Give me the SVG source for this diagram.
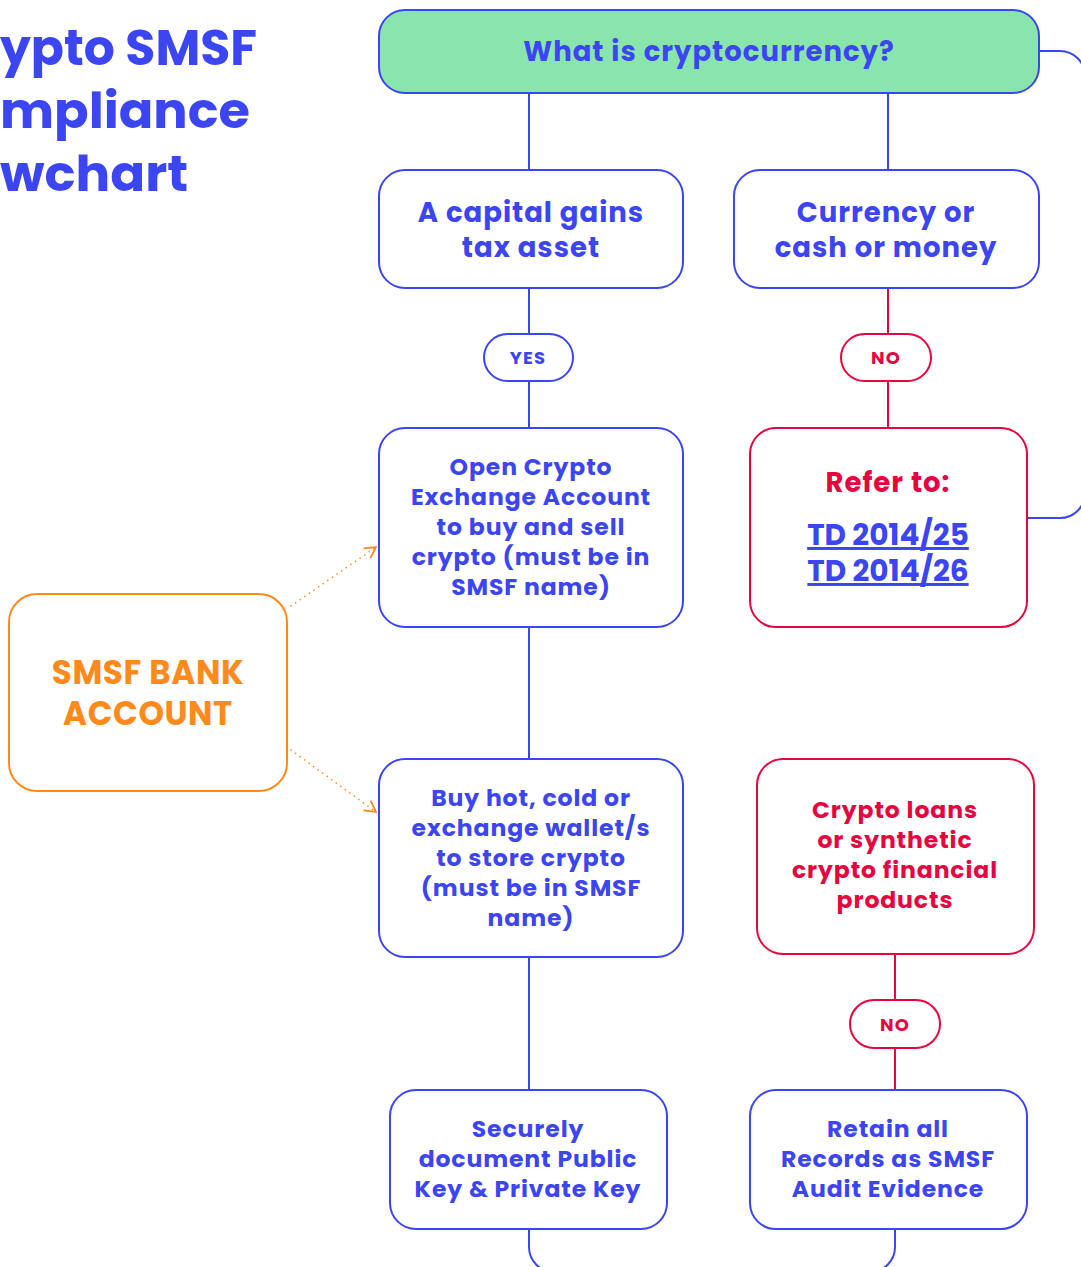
<svg xmlns="http://www.w3.org/2000/svg" width="1081" height="1267" viewBox="0 0 1081 1267">
<defs>
<style>
text{font-family:"Poppins","Open Sans","DejaVu Sans",sans-serif;font-weight:700;text-anchor:middle}
.box{fill:#fff;stroke:#3b45f2;stroke-width:2}
.rbox{fill:#fff;stroke:#e6053f;stroke-width:2}
.bt{fill:#3b45f2}
.rt{fill:#e6053f}
.ot{fill:#ff8a1c}
.n{font-size:23.5px;letter-spacing:0.9px}
.h{font-size:27.5px;letter-spacing:1px}
.pill{font-size:18px;letter-spacing:1.2px}
.td{font-size:29.5px;text-decoration:underline}
.bl{fill:none;stroke:#3b45f2;stroke-width:2}
.rl{fill:none;stroke:#e6053f;stroke-width:2}
.dot{fill:none;stroke:#ff8a1c;stroke-width:1.6;stroke-dasharray:0.1 5.5;stroke-linecap:round}
</style>
<marker id="oa" viewBox="0 0 14 14" refX="12" refY="7" markerWidth="14" markerHeight="14" markerUnits="userSpaceOnUse" orient="auto">
<path d="M1,1 L12,7 L1,13" fill="none" stroke="#ff8a1c" stroke-width="1.8"/>
</marker>
</defs>
<rect width="1081" height="1267" fill="#fff"/>

<g id="title" class="bt" style="font-size:50px">
<text x="0" y="65" style="text-anchor:start" textLength="257" lengthAdjust="spacingAndGlyphs">ypto SMSF</text>
<text x="0" y="128" style="text-anchor:start" textLength="250" lengthAdjust="spacingAndGlyphs">mpliance</text>
<text x="0" y="191" style="text-anchor:start" textLength="188" lengthAdjust="spacingAndGlyphs">wchart</text>
</g>

<g id="connectors">
<path class="bl" d="M529,93 V170 M888,93 V170"/>
<path class="bl" d="M529,288 V334 M529,381 V428 M529,627 V759 M529,957 V1090"/>
<path class="rl" d="M888,288 V334 M888,381 V428"/>
<path class="rl" d="M895,954 V1000 M895,1048 V1090"/>
<path class="bl" d="M1039,51 H1060 A25,25 0 0 1 1085,76 V493 A25,25 0 0 1 1060,518 H1027"/>
<path class="bl" d="M529,1229 V1247 A25,25 0 0 0 554,1272 H870 A25,25 0 0 0 895,1247 V1229"/>
<path class="dot" d="M291,606 L376,547" marker-end="url(#oa)"/>
<path class="dot" d="M291,750 L376,812" marker-end="url(#oa)"/>
</g>

<g id="n-what">
<rect x="379" y="10" width="660" height="83" rx="26" fill="#8ae5ad" stroke="#3b45f2" stroke-width="2"/>
<text class="bt h" x="709" y="61">What is cryptocurrency?</text>
</g>

<g id="n-cgt">
<rect class="box" x="379" y="170" width="304" height="118" rx="26"/>
<text class="bt h" x="531" y="222">A capital gains</text>
<text class="bt h" x="531" y="257">tax asset</text>
</g>

<g id="n-currency">
<rect class="box" x="734" y="170" width="305" height="118" rx="26"/>
<text class="bt h" x="886" y="222">Currency or</text>
<text class="bt h" x="886" y="257">cash or money</text>
</g>

<g id="p-yes">
<rect class="box" x="484" y="334" width="89" height="47" rx="23.5"/>
<text class="bt pill" x="528" y="364">YES</text>
</g>

<g id="p-no1">
<rect class="rbox" x="841" y="334" width="90" height="47" rx="23.5"/>
<text class="rt pill" x="886" y="364">NO</text>
</g>

<g id="n-open">
<rect class="box" x="379" y="428" width="304" height="199" rx="26"/>
<text class="bt n" x="531" y="475">Open Crypto</text>
<text class="bt n" x="531" y="505">Exchange Account</text>
<text class="bt n" x="531" y="535">to buy and sell</text>
<text class="bt n" x="531" y="565">crypto (must be in</text>
<text class="bt n" x="531" y="595">SMSF name)</text>
</g>

<g id="n-refer">
<rect class="rbox" x="750" y="428" width="277" height="199" rx="26"/>
<text class="rt h" x="888" y="492">Refer to:</text>
<text class="bt td" x="888" y="545">TD 2014/25</text>
<text class="bt td" x="888" y="581">TD 2014/26</text>
</g>

<g id="n-bank">
<rect x="9" y="594" width="278" height="197" rx="28" fill="#fff" stroke="#ff8a1c" stroke-width="2"/>
<text class="ot" x="148" y="684" style="font-size:32.5px;letter-spacing:0.6px">SMSF BANK</text>
<text class="ot" x="148" y="725" style="font-size:32.5px;letter-spacing:0.6px">ACCOUNT</text>
</g>

<g id="n-wallet">
<rect class="box" x="379" y="759" width="304" height="198" rx="26"/>
<text class="bt n" x="531" y="806">Buy hot, cold or</text>
<text class="bt n" x="531" y="836">exchange wallet/s</text>
<text class="bt n" x="531" y="866">to store crypto</text>
<text class="bt n" x="531" y="896">(must be in SMSF</text>
<text class="bt n" x="531" y="926">name)</text>
</g>

<g id="n-loans">
<rect class="rbox" x="757" y="759" width="277" height="195" rx="26"/>
<text class="rt n" x="895" y="818">Crypto loans</text>
<text class="rt n" x="895" y="848">or synthetic</text>
<text class="rt n" x="895" y="878">crypto financial</text>
<text class="rt n" x="895" y="908">products</text>
</g>

<g id="p-no2">
<rect class="rbox" x="850" y="1000" width="90" height="48" rx="24"/>
<text class="rt pill" x="895" y="1031">NO</text>
</g>

<g id="n-keys">
<rect class="box" x="390" y="1090" width="277" height="139" rx="26"/>
<text class="bt n" x="528" y="1137">Securely</text>
<text class="bt n" x="528" y="1167">document Public</text>
<text class="bt n" x="528" y="1197">Key &amp; Private Key</text>
</g>

<g id="n-retain">
<rect class="box" x="750" y="1090" width="277" height="139" rx="26"/>
<text class="bt n" x="888" y="1137">Retain all</text>
<text class="bt n" x="888" y="1167">Records as SMSF</text>
<text class="bt n" x="888" y="1197">Audit Evidence</text>
</g>
</svg>
